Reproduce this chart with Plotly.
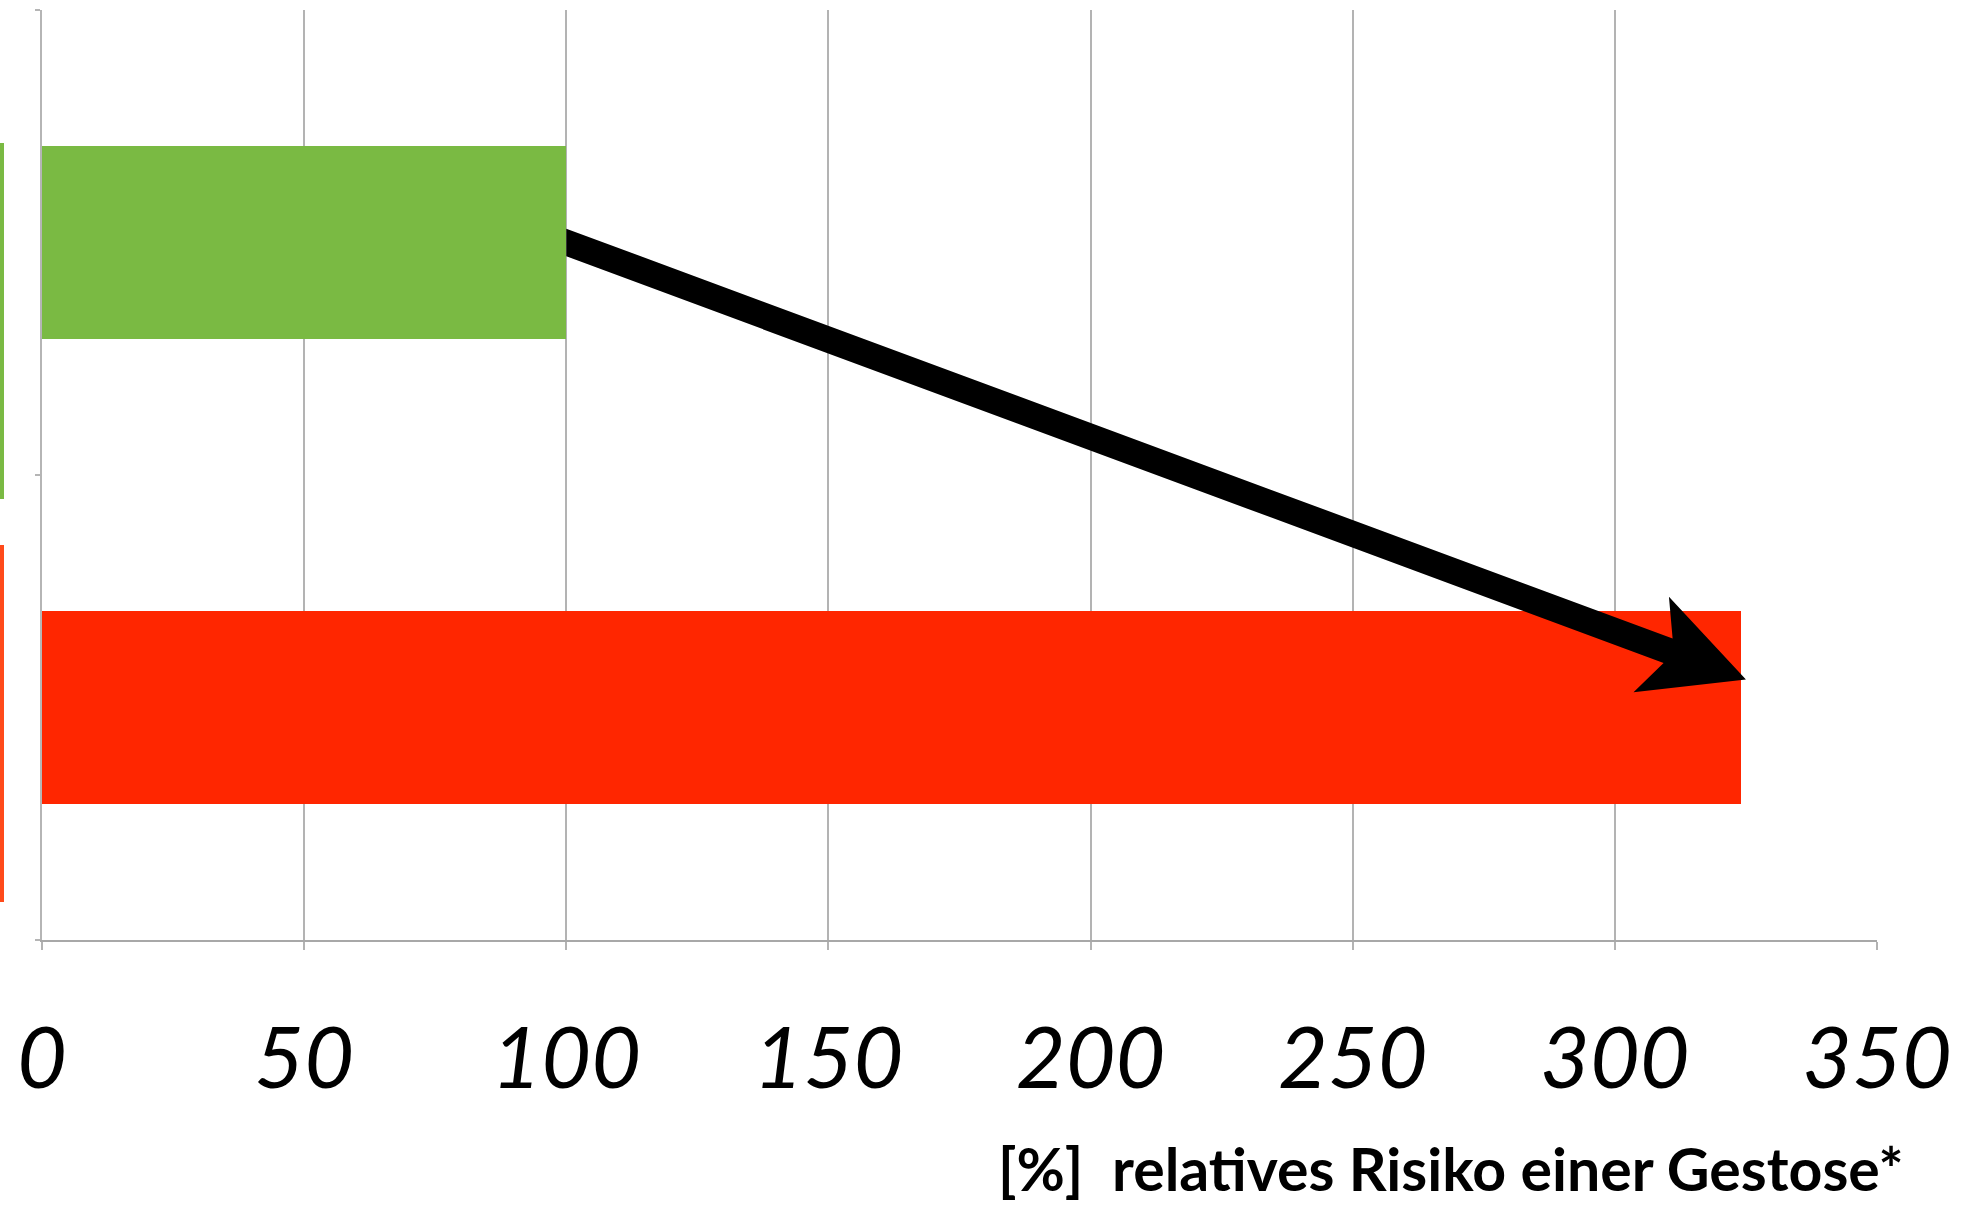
import math
import plotly.graph_objects as go

# ---- data ----
categories = [0, 1]                 # 0 = green group (top), 1 = red group (bottom)
values = [100, 324]                 # relative risk in %
bar_colors = ["#7aba43", "#ff2600"]
x_ticks = [0, 50, 100, 150, 200, 250, 300, 350]
x_ticklabels = ["0", "50", "100", "150", "200", "250", "300", "350"]
axis_title = "[%]  relatives Risiko einer Gestose*"

# arrow from end of first bar to near end of second bar (data units)
arrow_start = (100, 0.0)
arrow_tip = (325, 0.94)

# ---- layout geometry ----
W, H = 1982, 1208
ML, MR, MT, MB = 42, 105, 10, 268
PW, PH = W - ML - MR, H - MT - MB
XR = (0, 350)
YR = (1.5, -0.5)  # reversed


def to_px(x, y):
    px = ML + (x - XR[0]) / (XR[1] - XR[0]) * PW
    py = MT + (y - YR[1]) / (YR[0] - YR[1]) * PH
    return px, py


def to_data(px, py):
    x = XR[0] + (px - ML) / PW * (XR[1] - XR[0])
    y = YR[1] + (py - MT) / PH * (YR[0] - YR[1])
    return x, y


# arrow polygon (pixel geometry, converted to data)
sx, sy = to_px(*arrow_start)
tx, ty = to_px(*arrow_tip)
dx, dy = tx - sx, ty - sy
L = math.hypot(dx, dy)
ux, uy = dx / L, dy / L
nx, ny = -uy, ux
half_shaft = 13
head_len, head_half, notch = 101, 51, 83
vhalf = half_shaft / ux  # vertical half-extent at start for a vertical cut


def pt(u, n):
    return tx + u * ux + n * nx, ty + u * uy + n * ny


pts_px = [
    (sx, sy - vhalf),
    pt(-notch, -half_shaft),
    pt(-head_len, -head_half),
    (tx, ty),
    pt(-head_len, head_half),
    pt(-notch, half_shaft),
    (sx, sy + vhalf),
]
pts = [to_data(*p) for p in pts_px]
path = "M " + " L ".join(f"{x:.4f},{y:.5f}" for x, y in pts) + " Z"

fig = go.Figure()
fig.add_trace(go.Bar(
    x=values, y=categories, orientation="h", width=0.415,
    marker=dict(color=bar_colors, line=dict(width=0)),
    hoverinfo="skip", showlegend=False,
))

fig.add_shape(type="path", path=path, xref="x", yref="y",
              fillcolor="black", line=dict(width=0), layer="above")

# cut-off coloured strips at the very left edge
fig.add_shape(type="rect", xref="paper", yref="paper",
              x0=-ML / PW, x1=(4 - ML) / PW,
              y0=(MT + PH - 499) / PH, y1=(MT + PH - 143) / PH,
              fillcolor="#7aba43", line=dict(width=0))
fig.add_shape(type="rect", xref="paper", yref="paper",
              x0=-ML / PW, x1=(4 - ML) / PW,
              y0=(MT + PH - 902) / PH, y1=(MT + PH - 545) / PH,
              fillcolor="#ff4a1a", line=dict(width=0))

fig.add_annotation(
    text=axis_title, xref="paper", yref="paper",
    x=(1905 - ML) / PW, y=(MT + PH - 1168) / PH,
    xanchor="right", yanchor="middle", showarrow=False, borderpad=0,
    font=dict(family="Lato", size=59, color="black", weight="bold"),
)

fig.update_xaxes(
    range=list(XR), tickvals=x_ticks, ticktext=x_ticklabels,
    showgrid=True, gridcolor="#b3b3b3", gridwidth=2,
    showline=True, linecolor="#a8a8a8", linewidth=2,
    ticks="outside", ticklen=8, tickwidth=2, tickcolor="#b3b3b3",
    zeroline=False, ticklabelstandoff=35,
    tickfont=dict(family="Lato", size=86, color="black", style="italic"),
)
fig.update_yaxes(
    range=list(YR), tickvals=[-0.5, 0.5, 1.5], ticktext=["", "", ""],
    showgrid=False, showline=True, linecolor="#b5b5b5", linewidth=2,
    ticks="outside", ticklen=5, tickwidth=2, tickcolor="#b5b5b5",
    zeroline=False,
)
fig.update_layout(
    width=W, height=H,
    margin=dict(l=ML, r=MR, t=MT, b=MB, pad=0),
    plot_bgcolor="white", paper_bgcolor="white",
    bargap=0,
)
fig.write_html(
    "out.html",
    config={"displayModeBar": False},
    post_script="document.body.style.margin='0';document.body.style.overflow='hidden';",
)
